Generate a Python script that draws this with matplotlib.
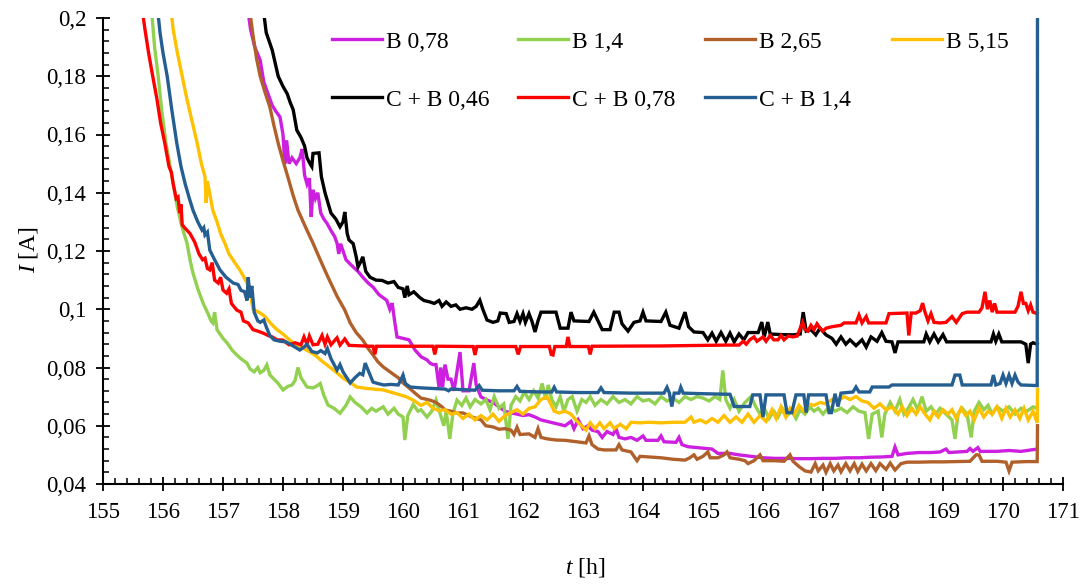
import matplotlib
matplotlib.use("Agg")
import matplotlib.pyplot as plt
import numpy as np
from matplotlib.ticker import MultipleLocator, FuncFormatter

plt.rcParams['font.family'] = ['Liberation Serif', 'DejaVu Serif']
plt.rcParams['mathtext.fontset'] = 'custom'
plt.rcParams['mathtext.rm'] = 'Liberation Serif'
plt.rcParams['mathtext.it'] = 'Liberation Serif:italic'

# ---------------- data (t [h], I [A]) ----------------
labels = ["B 0,78", "B 1,4", "B 2,65", "B 5,15", "C + B 0,46", "C + B 0,78", "C + B 1,4"]
colors = ["#CC1FE0", "#92D050", "#B0602A", "#FFC000", "#000000", "#FF0000", "#255E91"]

t_b078 = [157.40, 157.46, 157.53, 157.62, 157.68, 157.75, 157.82, 157.88, 157.95, 158.00, 158.03, 158.06, 158.10, 158.15, 158.22, 158.28, 158.32, 158.36, 158.40, 158.44, 158.47, 158.50, 158.54, 158.58, 158.63, 158.68, 158.73, 158.80, 158.86, 158.90, 158.93, 158.96, 159.05, 159.17, 159.25, 159.33, 159.42, 159.50, 159.60, 159.70, 159.73, 159.78, 159.82, 159.86, 159.90, 160.00, 160.10, 160.20, 160.30, 160.40, 160.45, 160.50, 160.55, 160.60, 160.63, 160.66, 160.70, 160.75, 160.80, 160.85, 160.95, 161.00, 161.10, 161.18, 161.22, 161.30, 161.40, 161.50, 161.60, 161.70, 161.80, 161.90, 162.00, 162.10, 162.20, 162.30, 162.40, 162.50, 162.60, 162.70, 162.80, 162.85, 162.92, 163.00, 163.08, 163.15, 163.25, 163.32, 163.40, 163.50, 163.55, 163.60, 163.70, 163.80, 163.90, 164.00, 164.05, 164.25, 164.30, 164.35, 164.55, 164.60, 164.65, 164.75, 164.95, 165.15, 165.25, 165.45, 165.60, 165.80, 166.00, 166.20, 166.40, 166.60, 166.80, 167.00, 167.20, 167.40, 167.60, 167.80, 168.00, 168.15, 168.20, 168.25, 168.40, 168.60, 168.80, 168.95, 169.05, 169.10, 169.40, 169.45, 169.50, 169.58, 169.62, 169.90, 170.10, 170.30, 170.50, 170.57]
i_b078 = [0.205, 0.196, 0.190, 0.1855, 0.178, 0.174, 0.170, 0.168, 0.166, 0.160, 0.150, 0.158, 0.150, 0.152, 0.150, 0.152, 0.155, 0.146, 0.143, 0.145, 0.1317, 0.141, 0.138, 0.140, 0.133, 0.131, 0.1296, 0.127, 0.125, 0.1227, 0.119, 0.1225, 0.117, 0.1145, 0.113, 0.111, 0.109, 0.1076, 0.105, 0.1035, 0.103, 0.100, 0.1021, 0.096, 0.0905, 0.090, 0.0895, 0.086, 0.0837, 0.0826, 0.0815, 0.081, 0.081, 0.0733, 0.080, 0.0733, 0.081, 0.076, 0.076, 0.072, 0.0853, 0.072, 0.072, 0.0815, 0.074, 0.0699, 0.0688, 0.068, 0.0665, 0.065, 0.0644, 0.064, 0.0635, 0.0638, 0.063, 0.062, 0.0615, 0.061, 0.0605, 0.060, 0.0615, 0.059, 0.062, 0.059, 0.060, 0.0585, 0.058, 0.056, 0.058, 0.057, 0.059, 0.056, 0.0555, 0.056, 0.055, 0.0565, 0.055, 0.055, 0.0565, 0.0545, 0.0543, 0.056, 0.0535, 0.0528, 0.0524, 0.052, 0.0505, 0.0505, 0.050, 0.0495, 0.049, 0.0488, 0.0488, 0.0487, 0.0487, 0.0488, 0.0488, 0.049, 0.049, 0.0492, 0.0493, 0.0495, 0.0527, 0.050, 0.0505, 0.0508, 0.0508, 0.051, 0.052, 0.0508, 0.0512, 0.0522, 0.0512, 0.0525, 0.0512, 0.0512, 0.0515, 0.0512, 0.0518, 0.052]

t_b14 = [155.80, 155.86, 155.92, 155.98, 156.05, 156.11, 156.17, 156.24, 156.30, 156.35, 156.40, 156.45, 156.50, 156.58, 156.67, 156.75, 156.80, 156.83, 156.86, 156.90, 157.00, 157.07, 157.15, 157.22, 157.30, 157.40, 157.45, 157.52, 157.58, 157.62, 157.68, 157.73, 157.78, 157.85, 157.92, 158.00, 158.08, 158.15, 158.20, 158.25, 158.30, 158.40, 158.50, 158.55, 158.62, 158.68, 158.75, 158.85, 158.95, 159.05, 159.12, 159.20, 159.30, 159.40, 159.48, 159.55, 159.67, 159.75, 159.85, 159.92, 160.00, 160.03, 160.08, 160.17, 160.25, 160.30, 160.40, 160.48, 160.55, 160.62, 160.68, 160.72, 160.78, 160.83, 160.90, 160.98, 161.05, 161.12, 161.20, 161.30, 161.38, 161.45, 161.52, 161.60, 161.68, 161.75, 161.80, 161.88, 161.95, 162.02, 162.10, 162.18, 162.25, 162.32, 162.38, 162.42, 162.48, 162.55, 162.62, 162.68, 162.75, 162.82, 162.90, 162.98, 163.05, 163.12, 163.20, 163.30, 163.40, 163.50, 163.60, 163.70, 163.80, 163.90, 164.00, 164.10, 164.20, 164.30, 164.40, 164.50, 164.60, 164.70, 164.80, 164.90, 165.00, 165.10, 165.20, 165.28, 165.33, 165.38, 165.45, 165.52, 165.60, 165.70, 165.80, 165.88, 165.95, 166.02, 166.10, 166.18, 166.25, 166.32, 166.40, 166.48, 166.55, 166.62, 166.70, 166.78, 166.85, 166.92, 167.00, 167.10, 167.20, 167.30, 167.40, 167.50, 167.60, 167.70, 167.76, 167.82, 167.92, 167.98, 168.03, 168.12, 168.20, 168.28, 168.35, 168.42, 168.50, 168.58, 168.65, 168.72, 168.80, 168.88, 168.95, 169.05, 169.15, 169.20, 169.25, 169.32, 169.40, 169.47, 169.52, 169.60, 169.68, 169.75, 169.82, 169.90, 170.00, 170.10, 170.20, 170.30, 170.40, 170.50, 170.57]
i_b14 = [0.205, 0.190, 0.180, 0.168, 0.157, 0.150, 0.143, 0.135, 0.1296, 0.126, 0.1227, 0.117, 0.1124, 0.107, 0.102, 0.0985, 0.096, 0.0953, 0.099, 0.093, 0.090, 0.0884, 0.086, 0.0845, 0.083, 0.0815, 0.0795, 0.0785, 0.080, 0.0782, 0.079, 0.0809, 0.0775, 0.076, 0.0745, 0.0723, 0.0735, 0.074, 0.0755, 0.080, 0.0765, 0.0733, 0.073, 0.0735, 0.0745, 0.0705, 0.0671, 0.066, 0.0643, 0.067, 0.0699, 0.068, 0.0665, 0.0644, 0.066, 0.065, 0.0665, 0.064, 0.066, 0.064, 0.063, 0.0551, 0.0635, 0.0673, 0.065, 0.0655, 0.063, 0.065, 0.0688, 0.064, 0.060, 0.065, 0.0555, 0.064, 0.0688, 0.067, 0.0695, 0.0665, 0.069, 0.0675, 0.069, 0.0655, 0.070, 0.066, 0.0675, 0.0555, 0.067, 0.070, 0.0685, 0.0715, 0.069, 0.072, 0.0695, 0.0745, 0.069, 0.074, 0.069, 0.0665, 0.070, 0.065, 0.069, 0.070, 0.065, 0.069, 0.068, 0.070, 0.067, 0.069, 0.0675, 0.070, 0.068, 0.069, 0.0675, 0.070, 0.0685, 0.069, 0.0675, 0.070, 0.0685, 0.0695, 0.068, 0.070, 0.069, 0.070, 0.0695, 0.0685, 0.070, 0.069, 0.079, 0.069, 0.066, 0.069, 0.065, 0.068, 0.070, 0.0665, 0.064, 0.066, 0.0625, 0.065, 0.063, 0.066, 0.0635, 0.065, 0.0625, 0.0655, 0.064, 0.0665, 0.065, 0.066, 0.064, 0.0665, 0.065, 0.066, 0.0645, 0.0665, 0.065, 0.0645, 0.0555, 0.064, 0.065, 0.056, 0.064, 0.068, 0.065, 0.069, 0.064, 0.066, 0.069, 0.0655, 0.070, 0.065, 0.0665, 0.064, 0.066, 0.064, 0.062, 0.0555, 0.064, 0.066, 0.064, 0.056, 0.065, 0.068, 0.0655, 0.067, 0.064, 0.0665, 0.065, 0.0665, 0.064, 0.066, 0.065, 0.0665, 0.066]

t_b265 = [157.43, 157.50, 157.56, 157.62, 157.70, 157.78, 157.85, 157.92, 158.00, 158.08, 158.17, 158.25, 158.38, 158.50, 158.62, 158.75, 158.90, 159.03, 159.12, 159.22, 159.33, 159.42, 159.50, 159.58, 159.67, 159.75, 159.83, 159.92, 160.00, 160.10, 160.20, 160.30, 160.45, 160.55, 160.65, 160.70, 160.80, 160.90, 161.00, 161.15, 161.30, 161.38, 161.50, 161.60, 161.70, 161.80, 161.85, 161.90, 161.95, 162.10, 162.20, 162.25, 162.30, 162.40, 162.55, 162.70, 162.90, 163.05, 163.10, 163.15, 163.25, 163.35, 163.55, 163.60, 163.65, 163.80, 163.85, 163.90, 163.95, 164.10, 164.30, 164.50, 164.70, 164.78, 164.85, 164.90, 165.00, 165.08, 165.12, 165.25, 165.35, 165.40, 165.45, 165.60, 165.70, 165.75, 165.85, 165.95, 166.00, 166.20, 166.35, 166.45, 166.50, 166.60, 166.70, 166.80, 166.87, 166.92, 167.00, 167.05, 167.12, 167.18, 167.25, 167.30, 167.38, 167.45, 167.52, 167.58, 167.65, 167.72, 167.80, 167.88, 167.95, 168.05, 168.12, 168.20, 168.30, 168.40, 168.60, 168.80, 169.00, 169.20, 169.45, 169.55, 169.60, 169.65, 169.90, 170.05, 170.10, 170.15, 170.40, 170.57, 170.575]
i_b265 = [0.205, 0.194, 0.186, 0.180, 0.1745, 0.1695, 0.163, 0.157, 0.151, 0.1455, 0.139, 0.134, 0.128, 0.1227, 0.117, 0.111, 0.1045, 0.0997, 0.0953, 0.092, 0.0894, 0.0865, 0.0843, 0.082, 0.0802, 0.079, 0.0778, 0.0765, 0.0747, 0.073, 0.0712, 0.0695, 0.0688, 0.068, 0.0665, 0.0654, 0.065, 0.0644, 0.0644, 0.063, 0.062, 0.060, 0.0596, 0.0588, 0.059, 0.0585, 0.057, 0.0595, 0.057, 0.0572, 0.056, 0.059, 0.056, 0.0555, 0.0551, 0.055, 0.0545, 0.0541, 0.0565, 0.0535, 0.052, 0.0517, 0.0517, 0.0535, 0.0517, 0.051, 0.0495, 0.048, 0.0495, 0.0493, 0.049, 0.0485, 0.0482, 0.049, 0.050, 0.0485, 0.0495, 0.051, 0.049, 0.049, 0.050, 0.051, 0.049, 0.0485, 0.048, 0.047, 0.048, 0.050, 0.048, 0.048, 0.0478, 0.050, 0.0478, 0.046, 0.0445, 0.0441, 0.047, 0.0445, 0.0465, 0.044, 0.047, 0.0445, 0.0465, 0.0442, 0.047, 0.0445, 0.047, 0.0443, 0.0468, 0.0445, 0.047, 0.0446, 0.047, 0.045, 0.0472, 0.0448, 0.047, 0.0475, 0.0475, 0.0476, 0.0476, 0.0477, 0.0478, 0.050, 0.050, 0.0478, 0.0478, 0.0475, 0.0445, 0.0475, 0.0477, 0.0477, 0.060]

t_b515 = [156.12, 156.17, 156.24, 156.32, 156.40, 156.48, 156.57, 156.64, 156.70, 156.72, 156.74, 156.78, 156.83, 156.90, 156.96, 157.03, 157.10, 157.18, 157.28, 157.35, 157.40, 157.45, 157.50, 157.55, 157.62, 157.70, 157.80, 157.90, 158.00, 158.08, 158.17, 158.30, 158.45, 158.55, 158.63, 158.73, 158.85, 159.00, 159.12, 159.23, 159.40, 159.55, 159.67, 159.80, 159.95, 160.05, 160.17, 160.30, 160.40, 160.50, 160.60, 160.70, 160.80, 160.90, 161.00, 161.10, 161.20, 161.30, 161.40, 161.50, 161.60, 161.70, 161.80, 161.90, 162.00, 162.10, 162.20, 162.30, 162.40, 162.45, 162.52, 162.60, 162.70, 162.80, 162.88, 162.95, 163.05, 163.12, 163.20, 163.28, 163.35, 163.45, 163.52, 163.62, 163.72, 163.80, 163.95, 164.10, 164.30, 164.50, 164.70, 164.80, 164.85, 164.95, 165.05, 165.15, 165.25, 165.35, 165.45, 165.55, 165.65, 165.75, 165.85, 165.95, 166.05, 166.15, 166.22, 166.30, 166.38, 166.45, 166.52, 166.60, 166.68, 166.75, 166.85, 166.95, 167.05, 167.15, 167.25, 167.35, 167.45, 167.55, 167.65, 167.75, 167.85, 167.95, 168.05, 168.15, 168.25, 168.32, 168.40, 168.48, 168.55, 168.62, 168.70, 168.78, 168.85, 168.92, 169.00, 169.08, 169.15, 169.22, 169.30, 169.38, 169.45, 169.52, 169.60, 169.68, 169.75, 169.82, 169.90, 169.98, 170.05, 170.12, 170.20, 170.28, 170.35, 170.42, 170.50, 170.57, 170.575]
i_b515 = [0.205, 0.196, 0.188, 0.180, 0.172, 0.165, 0.157, 0.150, 0.1455, 0.1365, 0.144, 0.1395, 0.134, 0.130, 0.126, 0.1227, 0.119, 0.1165, 0.1135, 0.111, 0.109, 0.106, 0.100, 0.0995, 0.0987, 0.0975, 0.095, 0.093, 0.0915, 0.090, 0.0884, 0.087, 0.0853, 0.084, 0.0825, 0.0809, 0.079, 0.0764, 0.0748, 0.0733, 0.0728, 0.0725, 0.0723, 0.0715, 0.0706, 0.070, 0.0688, 0.067, 0.068, 0.066, 0.0652, 0.0655, 0.064, 0.0645, 0.0625, 0.064, 0.062, 0.0635, 0.062, 0.064, 0.0615, 0.0635, 0.0645, 0.0655, 0.064, 0.066, 0.0665, 0.069, 0.070, 0.068, 0.065, 0.0644, 0.065, 0.064, 0.062, 0.0605, 0.0585, 0.061, 0.059, 0.061, 0.059, 0.061, 0.059, 0.0605, 0.059, 0.0612, 0.061, 0.0612, 0.061, 0.0612, 0.0612, 0.063, 0.0612, 0.062, 0.061, 0.0625, 0.0612, 0.0635, 0.0612, 0.063, 0.0612, 0.064, 0.0612, 0.0635, 0.0615, 0.0655, 0.0625, 0.0665, 0.063, 0.066, 0.064, 0.067, 0.065, 0.0675, 0.067, 0.068, 0.0675, 0.069, 0.0685, 0.070, 0.069, 0.070, 0.0685, 0.068, 0.066, 0.0675, 0.0655, 0.0665, 0.064, 0.0665, 0.0635, 0.066, 0.064, 0.0665, 0.064, 0.062, 0.065, 0.063, 0.0655, 0.064, 0.0655, 0.0625, 0.066, 0.0635, 0.065, 0.062, 0.066, 0.063, 0.065, 0.064, 0.0665, 0.0625, 0.066, 0.063, 0.0655, 0.0625, 0.066, 0.062, 0.065, 0.061, 0.0725]

t_cb046 = [157.66, 157.72, 157.82, 157.92, 158.00, 158.07, 158.12, 158.17, 158.23, 158.30, 158.36, 158.40, 158.45, 158.48, 158.50, 158.60, 158.64, 158.70, 158.75, 158.80, 158.88, 158.95, 159.00, 159.03, 159.07, 159.10, 159.17, 159.22, 159.25, 159.30, 159.33, 159.38, 159.45, 159.55, 159.65, 159.75, 159.85, 159.92, 160.00, 160.03, 160.07, 160.10, 160.18, 160.28, 160.35, 160.45, 160.52, 160.60, 160.65, 160.72, 160.80, 160.88, 160.95, 161.05, 161.15, 161.22, 161.28, 161.33, 161.40, 161.50, 161.58, 161.62, 161.72, 161.77, 161.85, 161.90, 161.95, 162.00, 162.04, 162.10, 162.15, 162.20, 162.25, 162.30, 162.55, 162.62, 162.75, 162.80, 162.85, 163.10, 163.18, 163.25, 163.32, 163.45, 163.52, 163.60, 163.65, 163.75, 163.85, 163.95, 164.00, 164.05, 164.30, 164.38, 164.45, 164.60, 164.70, 164.76, 164.85, 165.00, 165.08, 165.15, 165.22, 165.30, 165.38, 165.45, 165.52, 165.60, 165.68, 165.75, 165.92, 165.98, 166.02, 166.08, 166.12, 166.30, 166.50, 166.62, 166.67, 166.72, 166.80, 166.88, 166.95, 167.05, 167.15, 167.22, 167.30, 167.38, 167.45, 167.55, 167.65, 167.72, 167.80, 167.90, 167.98, 168.05, 168.15, 168.20, 168.25, 168.50, 168.68, 168.72, 168.78, 168.85, 168.92, 169.00, 169.06, 169.60, 169.80, 169.84, 169.88, 169.93, 169.98, 170.30, 170.38, 170.42, 170.46, 170.50, 170.57]
i_cb046 = [0.205, 0.195, 0.189, 0.180, 0.1765, 0.174, 0.171, 0.1685, 0.1615, 0.159, 0.156, 0.152, 0.150, 0.149, 0.1535, 0.1537, 0.1455, 0.140, 0.1365, 0.133, 0.131, 0.1283, 0.130, 0.1334, 0.126, 0.1238, 0.1225, 0.118, 0.1145, 0.1165, 0.118, 0.113, 0.111, 0.110, 0.1099, 0.109, 0.1095, 0.1075, 0.107, 0.104, 0.108, 0.105, 0.106, 0.104, 0.103, 0.1025, 0.102, 0.103, 0.101, 0.1025, 0.101, 0.1015, 0.100, 0.1005, 0.100, 0.101, 0.1031, 0.100, 0.0963, 0.0955, 0.096, 0.0987, 0.0985, 0.0955, 0.0958, 0.0985, 0.0958, 0.0985, 0.0955, 0.0985, 0.0958, 0.0922, 0.096, 0.099, 0.099, 0.0935, 0.0935, 0.099, 0.096, 0.0958, 0.099, 0.096, 0.093, 0.093, 0.099, 0.099, 0.095, 0.0925, 0.0955, 0.096, 0.099, 0.096, 0.0958, 0.099, 0.0945, 0.0935, 0.099, 0.094, 0.0922, 0.092, 0.0895, 0.0918, 0.089, 0.092, 0.089, 0.0918, 0.0888, 0.0915, 0.0895, 0.092, 0.092, 0.0956, 0.0905, 0.0956, 0.0915, 0.0913, 0.0912, 0.0915, 0.099, 0.0925, 0.093, 0.0912, 0.0935, 0.0912, 0.090, 0.088, 0.0905, 0.088, 0.0895, 0.0875, 0.0895, 0.087, 0.0905, 0.089, 0.092, 0.089, 0.0888, 0.085, 0.0888, 0.0888, 0.0888, 0.0915, 0.0888, 0.0915, 0.0888, 0.0913, 0.0888, 0.0888, 0.0888, 0.0915, 0.089, 0.0915, 0.0888, 0.0888, 0.088, 0.0815, 0.088, 0.0885, 0.088]

t_cb078 = [155.64, 155.70, 155.76, 155.82, 155.90, 155.96, 156.03, 156.10, 156.14, 156.17, 156.22, 156.25, 156.28, 156.30, 156.32, 156.36, 156.45, 156.53, 156.60, 156.66, 156.70, 156.74, 156.78, 156.82, 156.86, 156.92, 156.96, 157.00, 157.06, 157.10, 157.14, 157.23, 157.30, 157.34, 157.42, 157.50, 157.58, 157.67, 157.75, 157.82, 157.90, 158.00, 158.10, 158.20, 158.30, 158.35, 158.40, 158.44, 158.50, 158.58, 158.65, 158.70, 158.74, 158.80, 158.90, 158.95, 159.03, 159.10, 159.45, 159.50, 159.53, 159.56, 160.50, 160.53, 160.56, 161.17, 161.20, 161.23, 161.88, 161.92, 161.96, 162.44, 162.47, 162.50, 162.53, 162.72, 162.75, 162.78, 163.09, 163.12, 163.15, 164.30, 165.00, 165.40, 165.60, 165.67, 165.72, 165.78, 165.85, 165.90, 166.00, 166.05, 166.12, 166.18, 166.25, 166.30, 166.35, 166.42, 166.50, 166.57, 166.62, 166.66, 166.70, 166.75, 166.80, 166.85, 166.90, 166.95, 167.00, 167.05, 167.15, 167.30, 167.35, 167.55, 167.60, 167.65, 167.72, 167.76, 168.05, 168.10, 168.40, 168.43, 168.47, 168.55, 168.62, 168.66, 168.70, 168.75, 168.80, 168.85, 168.95, 169.05, 169.15, 169.22, 169.32, 169.40, 169.60, 169.65, 169.70, 169.74, 169.78, 169.82, 169.86, 169.90, 170.20, 170.25, 170.30, 170.34, 170.38, 170.42, 170.46, 170.50, 170.57]
i_cb078 = [0.205, 0.196, 0.188, 0.181, 0.172, 0.164, 0.157, 0.149, 0.147, 0.143, 0.138, 0.1385, 0.133, 0.136, 0.129, 0.128, 0.126, 0.123, 0.119, 0.117, 0.1175, 0.114, 0.1135, 0.116, 0.110, 0.109, 0.111, 0.1066, 0.1055, 0.107, 0.102, 0.0997, 0.099, 0.096, 0.0953, 0.093, 0.0925, 0.0918, 0.091, 0.0905, 0.0895, 0.0894, 0.0878, 0.0885, 0.0878, 0.0905, 0.088, 0.0908, 0.0878, 0.088, 0.091, 0.088, 0.0905, 0.0878, 0.0902, 0.0877, 0.0898, 0.0876, 0.0873, 0.0873, 0.0845, 0.0873, 0.0873, 0.0845, 0.0873, 0.0872, 0.0843, 0.0872, 0.0872, 0.0845, 0.0872, 0.0872, 0.0845, 0.0843, 0.0872, 0.0872, 0.0905, 0.0872, 0.0872, 0.0845, 0.0873, 0.0874, 0.0876, 0.0877, 0.0877, 0.089, 0.088, 0.0895, 0.0905, 0.089, 0.0905, 0.089, 0.091, 0.0895, 0.0895, 0.091, 0.0895, 0.0908, 0.0905, 0.0908, 0.0935, 0.0955, 0.093, 0.0925, 0.0945, 0.093, 0.095, 0.0935, 0.0925, 0.0935, 0.094, 0.0945, 0.0953, 0.0953, 0.098, 0.0953, 0.0975, 0.0953, 0.0953, 0.0985, 0.0987, 0.091, 0.0987, 0.0987, 0.0995, 0.1021, 0.099, 0.096, 0.0985, 0.0955, 0.0953, 0.0955, 0.0975, 0.0955, 0.0985, 0.099, 0.099, 0.1005, 0.106, 0.100, 0.103, 0.099, 0.102, 0.099, 0.099, 0.101, 0.106, 0.102, 0.102, 0.0995, 0.1015, 0.099, 0.0985]

t_cb14 = [155.90, 155.95, 156.00, 156.07, 156.15, 156.23, 156.30, 156.37, 156.44, 156.50, 156.58, 156.65, 156.68, 156.70, 156.74, 156.78, 156.86, 156.95, 157.05, 157.17, 157.25, 157.30, 157.36, 157.40, 157.42, 157.45, 157.48, 157.52, 157.58, 157.62, 157.68, 157.72, 157.78, 157.85, 157.95, 158.05, 158.12, 158.20, 158.28, 158.35, 158.40, 158.48, 158.57, 158.63, 158.70, 158.74, 158.80, 158.90, 158.95, 159.00, 159.08, 159.12, 159.20, 159.28, 159.33, 159.37, 159.42, 159.50, 159.58, 159.68, 159.80, 159.92, 159.97, 160.00, 160.04, 160.12, 160.30, 160.50, 160.70, 160.76, 160.80, 161.00, 161.20, 161.27, 161.32, 161.60, 161.85, 161.90, 161.95, 162.30, 162.48, 162.52, 162.56, 162.90, 163.25, 163.30, 163.35, 163.80, 164.35, 164.40, 164.44, 164.48, 164.52, 164.60, 164.63, 164.67, 165.00, 165.45, 165.52, 165.78, 165.83, 165.95, 166.00, 166.05, 166.35, 166.40, 166.48, 166.55, 166.68, 166.72, 166.76, 167.05, 167.10, 167.14, 167.20, 167.25, 167.30, 167.50, 167.55, 167.60, 167.78, 167.82, 168.10, 168.15, 169.15, 169.20, 169.28, 169.32, 169.80, 169.84, 169.88, 169.95, 170.00, 170.05, 170.10, 170.15, 170.20, 170.25, 170.30, 170.57, 170.575]
i_cb14 = [0.205, 0.195, 0.188, 0.180, 0.168, 0.157, 0.149, 0.143, 0.138, 0.134, 0.130, 0.1272, 0.128, 0.1255, 0.1265, 0.1203, 0.117, 0.1135, 0.111, 0.109, 0.1085, 0.1065, 0.106, 0.103, 0.111, 0.104, 0.108, 0.099, 0.096, 0.0955, 0.0963, 0.094, 0.091, 0.0895, 0.089, 0.0888, 0.088, 0.087, 0.086, 0.087, 0.088, 0.0855, 0.085, 0.0858, 0.0848, 0.0865, 0.083, 0.0791, 0.081, 0.0785, 0.076, 0.0747, 0.0765, 0.078, 0.0775, 0.0815, 0.079, 0.075, 0.0745, 0.074, 0.0742, 0.074, 0.076, 0.0774, 0.0745, 0.0733, 0.073, 0.0728, 0.0726, 0.072, 0.0726, 0.0724, 0.0722, 0.0738, 0.0722, 0.072, 0.072, 0.0735, 0.0718, 0.0716, 0.0716, 0.0732, 0.0716, 0.0714, 0.0714, 0.073, 0.0714, 0.0712, 0.0712, 0.0732, 0.0712, 0.0666, 0.0712, 0.0712, 0.0732, 0.0712, 0.071, 0.0708, 0.0666, 0.0666, 0.0706, 0.0706, 0.063, 0.0706, 0.0706, 0.0645, 0.0645, 0.0706, 0.0706, 0.0645, 0.0706, 0.0706, 0.0645, 0.0645, 0.071, 0.0666, 0.0712, 0.0716, 0.0733, 0.0716, 0.0716, 0.0733, 0.0733, 0.074, 0.074, 0.0774, 0.0774, 0.074, 0.074, 0.0774, 0.074, 0.0745, 0.0774, 0.0745, 0.0774, 0.0745, 0.0774, 0.075, 0.074, 0.0738, 0.210]

series_t = [t_b078, t_b14, t_b265, t_b515, t_cb046, t_cb078, t_cb14]
series_i = [i_b078, i_b14, i_b265, i_b515, i_cb046, i_cb078, i_cb14]

# ---------------- figure ----------------
W, H = 1087, 585
fig = plt.figure(figsize=(W / 100, H / 100), dpi=100)
ax = fig.add_axes([103 / W, 1 - 484 / H, 960 / W, 466 / H])

handles = []
for t, i, lab, col in zip(series_t, series_i, labels, colors):
    h, = ax.plot(t, i, color=col, lw=2.4, label=lab, solid_joinstyle='miter')
    handles.append(h)

ax.set_xlim(155, 171)
ax.set_ylim(0.04, 0.2)
ax.xaxis.set_major_locator(MultipleLocator(1))
ax.xaxis.set_minor_locator(MultipleLocator(0.2))
ax.yaxis.set_major_locator(MultipleLocator(0.02))
ax.yaxis.set_minor_locator(MultipleLocator(0.004))


def comma(v, pos):
    s = f"{v:.2f}".rstrip('0').rstrip('.')
    return s.replace('.', ',')


ax.yaxis.set_major_formatter(FuncFormatter(comma))

for s in ['top', 'right']:
    ax.spines[s].set_visible(False)
for s in ['left', 'bottom']:
    ax.spines[s].set_linewidth(1.5)

ax.tick_params(which='major', direction='inout', length=10, width=1.3, labelsize=16.5)
ax.tick_params(which='minor', direction='in', length=4.5, width=1.1)
ax.tick_params(axis='x', which='major', pad=8)
ax.tick_params(axis='y', which='major', pad=7)

ax.set_xlabel(r'$\mathit{t}$ [h]', fontsize=17)
ax.xaxis.set_label_coords((585 - 103) / 960, (484 - 556) / 466)
ax.set_ylabel(r'$\mathit{I}$ [A]', fontsize=17)
ax.yaxis.set_label_coords((40 - 103) / 960, (484 - 250) / 466)

# legend: 4 fixed-width columns, 2 rows (row-wise order as in the reference)
col_x = [332, 518, 705, 892]
col_items = [[0, 4], [1, 5], [2, 6], [3]]
for x0, items in zip(col_x, col_items):
    fig.legend([handles[k] for k in items], [labels[k] for k in items],
               loc='upper left', bbox_to_anchor=(x0 / W, 1 - 31 / H),
               ncol=1, frameon=False, fontsize=17, handlelength=2.1,
               handletextpad=0.2, labelspacing=1.55,
               borderpad=0, borderaxespad=0)

fig.savefig('out.png', dpi=100)
